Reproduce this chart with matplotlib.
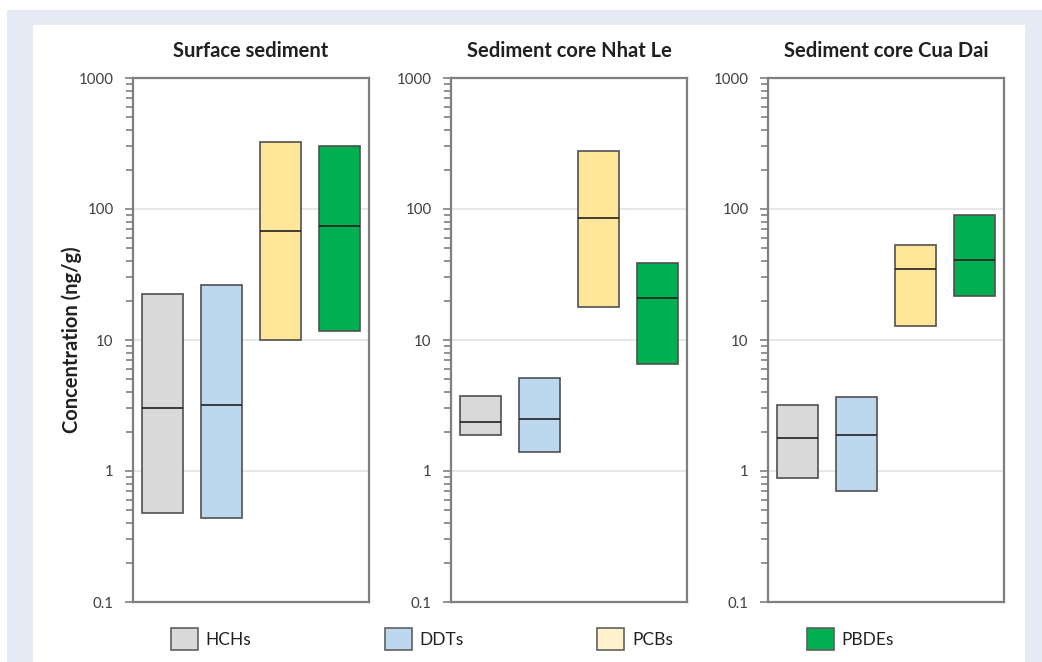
import matplotlib.pyplot as plt
from matplotlib.patches import Patch, Rectangle
from matplotlib.ticker import FixedLocator, LogLocator, NullFormatter

plt.rcParams['font.family'] = ['Lato', 'DejaVu Sans']

# pollutant groups and their colours
groups = ['HCHs', 'DDTs', 'PCBs', 'PBDEs']
colors = ['#d9d9d9', '#bdd7ee', '#ffe699', '#00b050']
legend_colors = ['#d9d9d9', '#bdd7ee', '#fff2cc', '#00b050']

titles = ['Surface sediment', 'Sediment core Nhat Le', 'Sediment core Cua Dai']

# concentration ranges (ng/g): min, median, max per group
surface_min = [0.48, 0.44, 10.0, 11.8]
surface_med = [3.05, 3.17, 68.0, 74.0]
surface_max = [22.5, 26.5, 325.0, 305.0]

nhatle_min = [1.87, 1.40, 17.9, 6.6]
nhatle_med = [2.38, 2.48, 85.0, 20.9]
nhatle_max = [3.76, 5.15, 277.0, 38.7]

cuadai_min = [0.89, 0.70, 12.9, 21.8]
cuadai_med = [1.80, 1.88, 34.8, 40.8]
cuadai_max = [3.17, 3.65, 53.4, 90.0]

mins = [surface_min, nhatle_min, cuadai_min]
meds = [surface_med, nhatle_med, cuadai_med]
maxs = [surface_max, nhatle_max, cuadai_max]

W, H = 1042, 662
fig = plt.figure(figsize=(W / 100, H / 100), dpi=100)
fig.patch.set_facecolor('white')

# light blue frame behind the white panel
fig.patches.append(Rectangle((7 / W, 0), 1, 1 - 10 / H, transform=fig.transFigure,
                             facecolor='#e6eaf5', edgecolor='none', zorder=-2))
fig.patches.append(Rectangle((33 / W, 0), (1025 - 33) / W, 1 - 25 / H, transform=fig.transFigure,
                             facecolor='white', edgecolor='none', zorder=-1))

lefts = [133, 451, 768]
ax_w = 236
ax_top, ax_bot = 78, 602
spine_col = '#7f7f7f'

for i in range(3):
    ax = fig.add_axes([lefts[i] / W, 1 - ax_bot / H, ax_w / W, (ax_bot - ax_top) / H])
    ax.set_yscale('log')
    ax.set_ylim(0.1, 1000)
    ax.set_xlim(-0.5, 3.5)
    x = range(len(groups))
    heights = [hi - lo for lo, hi in zip(mins[i], maxs[i])]
    ax.bar(x, heights, bottom=mins[i], width=0.68, color=colors, edgecolor='#505050',
           linewidth=1.2, zorder=3)
    ax.hlines(meds[i], [k - 0.34 for k in x], [k + 0.34 for k in x],
              colors='#202020', linewidth=1.2, zorder=4)

    ax.yaxis.set_major_locator(FixedLocator([0.1, 1, 10, 100, 1000]))
    ax.set_yticklabels(['0.1', '1', '10', '100', '1000'])
    ax.yaxis.set_minor_locator(LogLocator(base=10, subs=range(2, 10)))
    ax.yaxis.set_minor_formatter(NullFormatter())
    ax.grid(axis='y', which='major', color='#e3e3e3', linewidth=1.2, zorder=0)
    ax.set_xticks([])
    ax.tick_params(axis='y', which='major', direction='out', length=6, width=1.2,
                   color=spine_col, labelsize=10.8, labelcolor='#404040', pad=8)
    ax.tick_params(axis='y', which='minor', direction='out', length=5, width=1.2,
                   color=spine_col)
    for s in ax.spines.values():
        s.set_color(spine_col)
        s.set_linewidth(1.6)
    ax.set_title(titles[i], fontsize=14.5, fontweight='bold', color='#202020', pad=15)
    if i == 0:
        ax.set_ylabel('Concentration (ng/g)', fontsize=14.5, fontweight='bold',
                      color='#202020', labelpad=-2.5)

handles = [Patch(facecolor=c, edgecolor='#606060', linewidth=1.2) for c in legend_colors]
fig.legend(handles, groups, loc='center left', bbox_to_anchor=(155 / W, 1 - 639 / H),
           ncol=4, frameon=False, fontsize=12.5, handlelength=1.55, handleheight=1.55,
           handletextpad=0.45, columnspacing=7.7, labelcolor='#202020')

fig.savefig('out.png', dpi=100)
